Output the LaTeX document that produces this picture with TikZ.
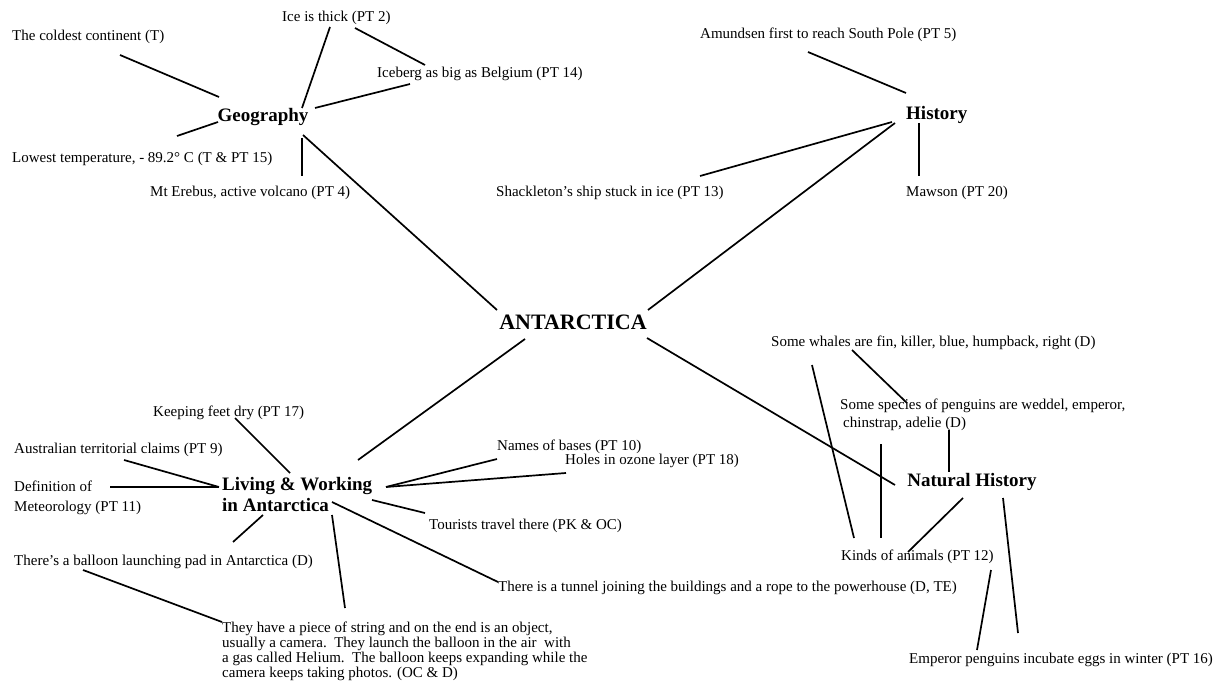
\documentclass[tikz,border=0pt]{standalone}
\usepackage{fontspec}
\setmainfont{Liberation Serif}
\begin{document}
\begin{tikzpicture}[x=1pt,y=-1pt,
  lbl/.style={font=\fontsize{15}{15}\selectfont, inner sep=0pt, anchor=west},
  para/.style={font=\fontsize{15}{15}\selectfont, inner sep=0pt, align=left, anchor=north west},
  head/.style={font=\fontsize{19}{21}\selectfont\bfseries, inner sep=0pt},
  link/.style={line width=1.7pt}]
\useasboundingbox (0,0) rectangle (1219,687);

% ---- centre
\node[font=\fontsize{22}{22}\selectfont\bfseries, inner sep=0pt] (antar) at (573,322) {ANTARCTICA};

% ---- Geography branch
\node[head] (geo) at (263,117) {Geography};
\node[lbl] (cold) at (12,37) {The coldest continent (T)};
\node[lbl] (ice) at (282,18) {Ice is thick (PT 2)};
\node[lbl] (berg) at (377,74) {Iceberg as big as Belgium (PT 14)};
\node[lbl] (lowt) at (12,159) {Lowest temperature, - 89.2° C (T \& PT 15)};
\node[lbl] (ereb) at (150,193) {Mt Erebus, active volcano (PT 4)};

% ---- History branch
\node[head, anchor=west] (hist) at (906,115) {History};
\node[lbl] (amun) at (700,35) {Amundsen first to reach South Pole (PT 5)};
\node[lbl] (shack) at (496,193) {Shackleton's ship stuck in ice (PT 13)};
\node[lbl] (maws) at (906,193) {Mawson (PT 20)};

% ---- Living & Working branch
\node[head, align=left, anchor=north west] (live) at (222,477) {Living \& Working\\in Antarctica};
\node[lbl] (feet) at (153,413) {Keeping feet dry (PT 17)};
\node[lbl] (austr) at (14,450) {Australian territorial claims (PT 9)};
\node[font=\fontsize{15}{20}\selectfont, inner sep=0pt, align=left, anchor=north west] (meteo) at (14,481) {Definition of\\Meteorology (PT 11)};
\node[lbl] (pad) at (14,562) {There's a balloon launching pad in Antarctica (D)};
\node[para] (string) at (222,621.5) {They have a piece of string and on the end is an object,\\
usually a camera.\ \ They launch the balloon in the air\ \ with\\
a gas called Helium.\ \ The balloon keeps expanding while the\\
camera keeps taking photos. (OC \& D)};
\node[lbl] (bases) at (497,447) {Names of bases (PT 10)};
\node[lbl] (ozone) at (565,461) {Holes in ozone layer (PT 18)};
\node[lbl] (tour) at (429,526) {Tourists travel there (PK \& OC)};
\node[lbl] (tunnel) at (498,588) {There is a tunnel joining the buildings and a rope to the powerhouse (D, TE)};

% ---- Natural History branch
\node[head] (nat) at (972,482) {Natural History};
\node[lbl] (whale) at (771,343) {Some whales are fin, killer, blue, humpback, right (D)};
\node[font=\fontsize{15}{18}\selectfont, inner sep=0pt, align=left, anchor=north west] (peng) at (840,399) {Some species of penguins are weddel, emperor,\\\hspace{3pt}chinstrap, adelie (D)};
\node[lbl] (kinds) at (841,557) {Kinds of animals (PT 12)};
\node[lbl] (emp) at (909,660) {Emperor penguins incubate eggs in winter (PT 16)};

% ---- connector end points
\coordinate (coldE) at (120,55);   \coordinate (geoA) at (219,97);
\coordinate (iceA) at (330,27);    \coordinate (geoB) at (302,108);
\coordinate (iceB) at (355,28);    \coordinate (bergA) at (425,65);
\coordinate (geoC) at (315,108);   \coordinate (bergB) at (410,84);
\coordinate (lowtE) at (177,136);  \coordinate (geoD) at (218,122);
\coordinate (geoE) at (302,138);   \coordinate (erebE) at (302,176);
\coordinate (geoF) at (303,135);   \coordinate (antA) at (497,310);

\coordinate (amunE) at (808,52);   \coordinate (histA) at (906,93);
\coordinate (shackE) at (700,176); \coordinate (histB) at (892,122);
\coordinate (histC) at (895,123);  \coordinate (antB) at (648,310);
\coordinate (histD) at (919,123);  \coordinate (mawsE) at (919,176);

\coordinate (antC) at (525,339);   \coordinate (liveA) at (358,460);
\coordinate (antD) at (647,338);   \coordinate (natA) at (895,485);

\coordinate (feetE) at (235,418);  \coordinate (liveB) at (290,473);
\coordinate (austrE) at (124,460); \coordinate (liveC) at (219,487);
\coordinate (meteoE) at (110,487);
\coordinate (padA) at (233,542);   \coordinate (liveD) at (263,515);
\coordinate (padB) at (83,570);    \coordinate (strA) at (222,622);
\coordinate (liveE) at (332,515);  \coordinate (strB) at (345,608);
\coordinate (liveF) at (386,487);  \coordinate (basesE) at (497,459);
\coordinate (ozoneE) at (566,473);
\coordinate (liveG) at (372,500);  \coordinate (tourE) at (425,513);
\coordinate (liveH) at (332,502);  \coordinate (tunE) at (498,582);

\coordinate (whaleA) at (852,350); \coordinate (pengA) at (907,403);
\coordinate (whaleB) at (812,365); \coordinate (kindsA) at (854,538);
\coordinate (pengB) at (881,444);  \coordinate (kindsB) at (881,538);
\coordinate (pengC) at (949,430);  \coordinate (natB) at (949,472);
\coordinate (natC) at (963,498);   \coordinate (kindsC) at (908,552);
\coordinate (kindsD) at (991,570); \coordinate (empA) at (977,650);
\coordinate (natD) at (1003,498);  \coordinate (empB) at (1018,633);

% ---- connectors
\draw[link] (coldE) -- (geoA);
\draw[link] (iceA) -- (geoB);
\draw[link] (iceB) -- (bergA);
\draw[link] (geoC) -- (bergB);
\draw[link] (lowtE) -- (geoD);
\draw[link] (geoE) -- (erebE);
\draw[link] (geoF) -- (antA);

\draw[link] (amunE) -- (histA);
\draw[link] (shackE) -- (histB);
\draw[link] (histC) -- (antB);
\draw[link] (histD) -- (mawsE);

\draw[link] (antC) -- (liveA);
\draw[link] (antD) -- (natA);

\draw[link] (feetE) -- (liveB);
\draw[link] (austrE) -- (liveC);
\draw[link] (meteoE) -- (liveC);
\draw[link] (padA) -- (liveD);
\draw[link] (padB) -- (strA);
\draw[link] (liveE) -- (strB);
\draw[link] (liveF) -- (basesE);
\draw[link] (liveF) -- (ozoneE);
\draw[link] (liveG) -- (tourE);
\draw[link] (liveH) -- (tunE);

\draw[link] (whaleA) -- (pengA);
\draw[link] (whaleB) -- (kindsA);
\draw[link] (pengB) -- (kindsB);
\draw[link] (pengC) -- (natB);
\draw[link] (natC) -- (kindsC);
\draw[link] (kindsD) -- (empA);
\draw[link] (natD) -- (empB);
\end{tikzpicture}
\end{document}
